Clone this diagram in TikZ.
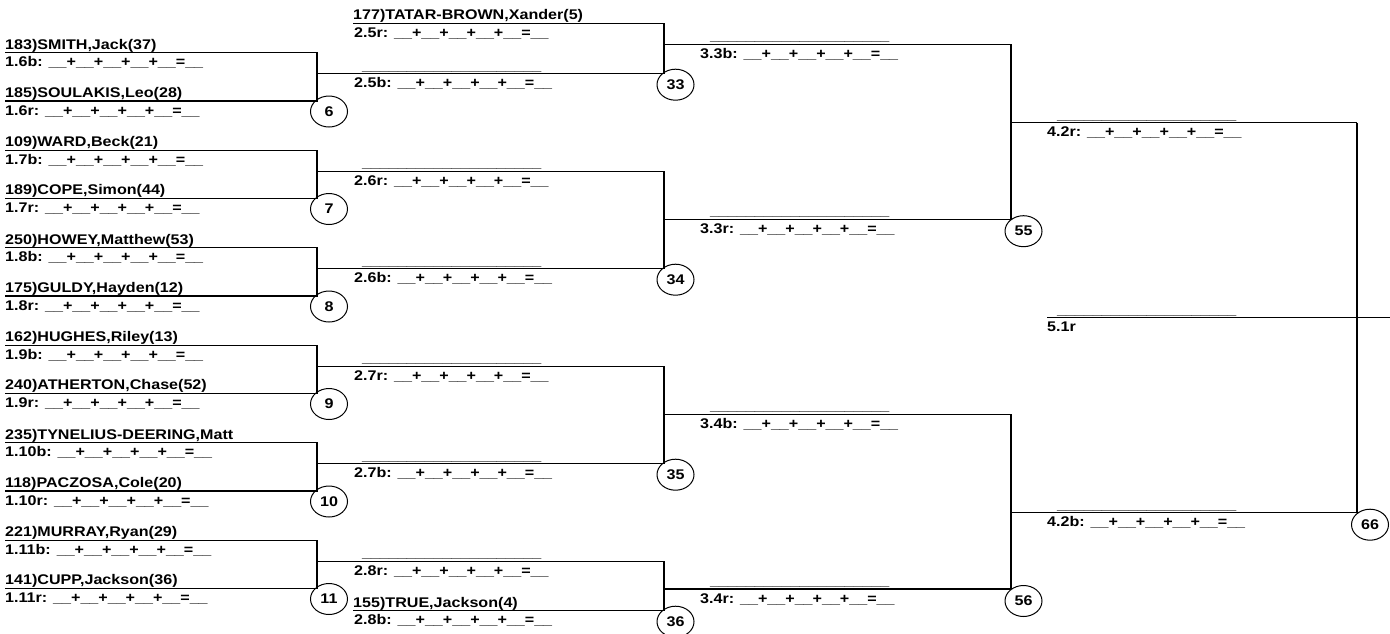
\documentclass[tikz,border=0pt]{standalone}
\usepackage{fontspec}
\usepackage{tikz}
\usetikzlibrary{shapes.geometric}
\newfontfamily\brfont{Liberation Sans}[FakeStretch=1.15]
\newcommand{\blank}{\_\_\_\_\_\_\_\_\_\_\_\_\_\_\_\_\_\_\_\_}
\newcommand{\sums}[1]{#1: \_\_+\_\_+\_\_+\_\_+\_\_=\_\_}

\begin{document}
\begin{tikzpicture}[
  x=1pt,y=-1pt,
  every node/.style={font=\brfont\bfseries\fontsize{14}{16}\selectfont,inner sep=0pt,anchor=base west},
  ln/.style={line width=1.2pt},
  rnd/.style={ellipse,draw,line width=1pt,minimum width=37pt,minimum height=31pt,anchor=center}
]
\useasboundingbox (0,0) rectangle (1390,633);
% round 1
\foreach \m/\ya/\na/\nb in {
  6/52.7/{183)SMITH,Jack(37)}/{185)SOULAKIS,Leo(28)},
  7/150.2/{109)WARD,Beck(21)}/{189)COPE,Simon(44)},
  8/247.7/{250)HOWEY,Matthew(53)}/{175)GULDY,Hayden(12)},
  9/345.2/{162)HUGHES,Riley(13)}/{240)ATHERTON,Chase(52)},
  10/442.7/{235)TYNELIUS-DEERING,Matt}/{118)PACZOSA,Cole(20)},
  11/540.2/{221)MURRAY,Ryan(29)}/{141)CUPP,Jackson(36)}}{
  \pgfmathsetmacro\yb{\ya+48.3}
  \pgfmathsetmacro\yc{\ya+21}
  \node (p\m a) at (5,\ya-3.7) {\na};
  \node (p\m b) at (5,\yb-3.7) {\nb};
  \node (s\m a) at (5,\ya+14) {\sums{1.\m b}};
  \node (s\m b) at (5,\yb+14) {\sums{1.\m r}};
  \draw[ln] (5,\ya) -| (317,\yb) -- (5,\yb);
  \draw[ln] (317,\yc) -- (664,\yc);
  \node (w\m) at (362,\yc-3.7) {\blank};
  \node[rnd] (m\m) at (329,\yb+10.5) {\m};
}
% seeded entries
\draw[ln] (353,23.3) -- (664,23.3);
\node (bye5) at (353,19.6) {177)TATAR-BROWN,Xander(5)};
\draw[ln] (353,610.7) -- (664,610.7);
\node (bye8) at (353,607) {155)TRUE,Jackson(4)};
% round 2
\foreach \m/\ya/\yb/\yc/\la/\lb in {
  33/23.3/73.7/44.3/2.5r/2.5b,
  34/171.2/268.7/219.2/2.6r/2.6b,
  35/366.2/463.7/414.2/2.7r/2.7b,
  36/561.2/610.7/589/2.8r/2.8b}{
  \node (s\m a) at (354,\ya+14) {\sums{\la}};
  \node (s\m b) at (354,\yb+14) {\sums{\lb}};
  \draw[ln] (664,\ya) -- (664,\yb);
  \draw[ln] (664,\yc) -- (1011,\yc);
  \node (w\m) at (710,\yc-3.7) {\blank};
  \node[rnd] (m\m) at (675.5,\yb+11) {\m};
}
% round 3
\foreach \m/\ya/\yb/\yc/\la/\lb in {
  55/44.3/219.2/122.7/3.3b/3.3r,
  56/414.2/589/512.7/3.4b/3.4r}{
  \node (s\m a) at (700,\ya+14) {\sums{\la}};
  \node (s\m b) at (700,\yb+14) {\sums{\lb}};
  \draw[ln] (1011,\ya) -- (1011,\yb);
  \draw[ln] (1011,\yc) -- (1357,\yc);
  \node (w\m) at (1057,\yc-3.7) {\blank};
  \node[rnd] (m\m) at (1023.5,\yb+12) {\m};
}
% final
\node (s66a) at (1047,136.7) {\sums{4.2r}};
\node (s66b) at (1047,526.7) {\sums{4.2b}};
\draw[ln] (1357,122.7) -- (1357,512.7);
\draw[ln] (1047,317.7) -- (1390,317.7);
\node (w66) at (1057,314) {\blank};
\node (s51) at (1047,331.7) {5.1r};
\node[rnd] (m66) at (1370,524.7) {66};
\end{tikzpicture}
\end{document}
